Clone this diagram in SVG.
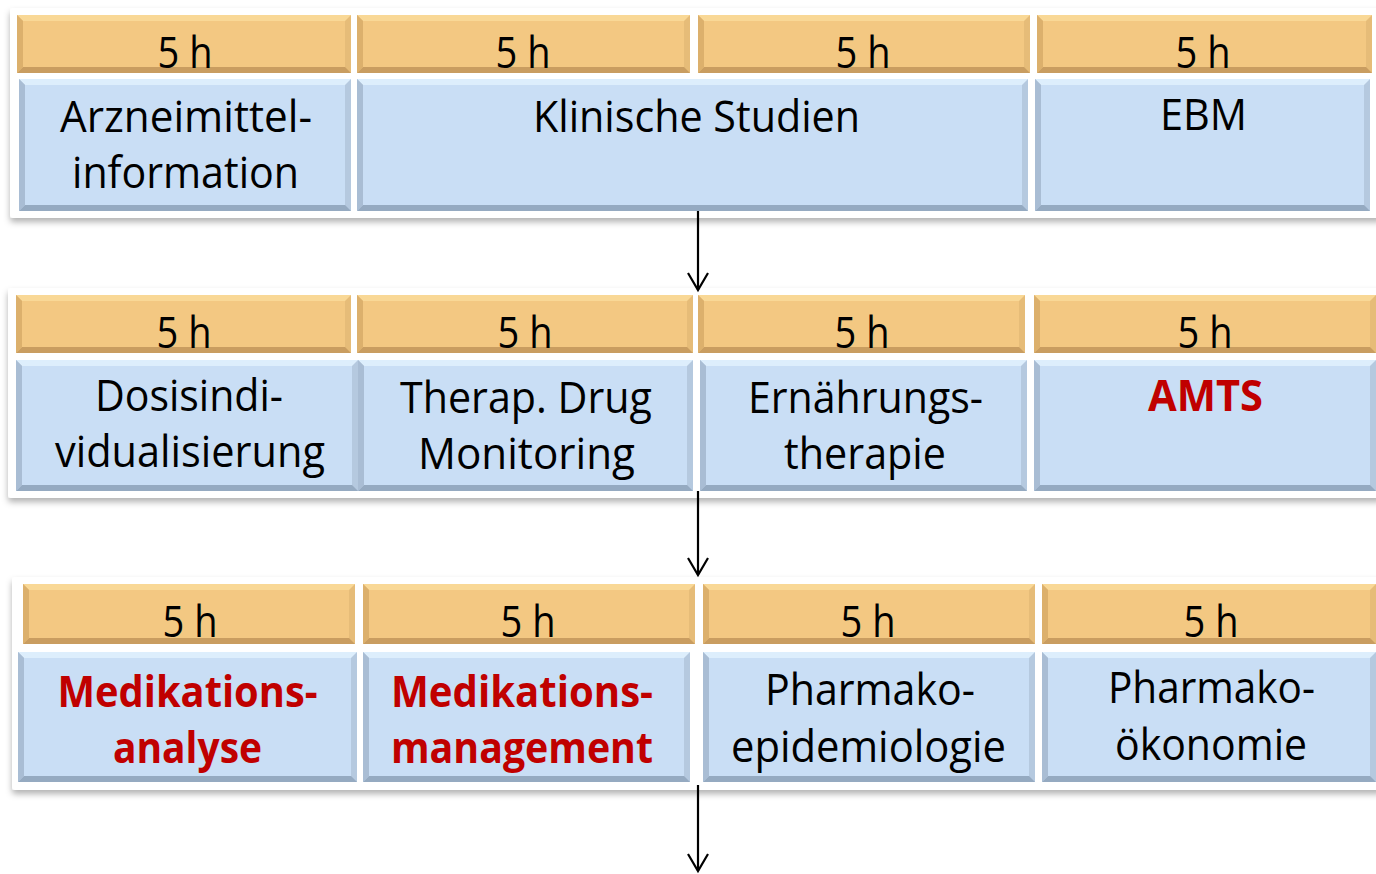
<svg xmlns="http://www.w3.org/2000/svg" width="1376" height="874" viewBox="0 0 1376 874">
<defs>
<style>
.t{font-family:"Open Sans","Noto Sans","DejaVu Sans",sans-serif;font-size:43px;fill:#000;text-anchor:middle}
.r{font-weight:bold;fill:#c00000}
.panel{fill:#fff;filter:url(#sh)}
.or{fill:#e6bc78}.ot{fill:#f9d896}.ob{fill:#c99d60}.ol{fill:#dcb06c}.of{fill:#f3c882}
.br{fill:#b5c9df}.bt{fill:#ddeefc}.bb{fill:#95aac1}.bl{fill:#a9bdd4}.bf{fill:#c9def5}
.conn{stroke:#000;stroke-width:2.2;fill:none;marker-end:url(#arr)}
</style>
<filter id="sh" x="-5%" y="-10%" width="110%" height="125%">
<feDropShadow dx="0" dy="4" stdDeviation="3" flood-color="#000" flood-opacity="0.3"/>
</filter>
<marker id="arr" markerUnits="userSpaceOnUse" markerWidth="24" markerHeight="24" viewBox="-20 -12 24 24" refX="0" refY="0" orient="auto" overflow="visible">
<path d="M-17,-10 L0,0 L-17,10" fill="none" stroke="#000" stroke-width="2.2"/>
</marker>
</defs>
<rect width="1376" height="874" fill="#fff"/>

<g id="panels">
<rect class="panel" x="10" y="8" width="1372" height="210" rx="3"/>
<rect class="panel" x="8" y="288" width="1374" height="210" rx="3"/>
<rect class="panel" x="12" y="577" width="1370" height="213" rx="3"/>
</g>

<g id="row1">
<g id="h1a"><rect class="or" x="17" y="15" width="334" height="58"/><polygon class="ot" points="17,15 351,15 345,21 23,21"/><polygon class="ob" points="17,73 351,73 345,67 23,67"/><polygon class="ol" points="17,15 23,21 23,67 17,73"/><rect class="of" x="23" y="21" width="322" height="46"/><text class="t" x="185" y="68" textLength="55" lengthAdjust="spacingAndGlyphs">5 h</text></g>
<g id="h1b"><rect class="or" x="357" y="15" width="333" height="58"/><polygon class="ot" points="357,15 690,15 684,21 363,21"/><polygon class="ob" points="357,73 690,73 684,67 363,67"/><polygon class="ol" points="357,15 363,21 363,67 357,73"/><rect class="of" x="363" y="21" width="321" height="46"/><text class="t" x="523" y="68" textLength="55" lengthAdjust="spacingAndGlyphs">5 h</text></g>
<g id="h1c"><rect class="or" x="698" y="15" width="332" height="58"/><polygon class="ot" points="698,15 1030,15 1024,21 704,21"/><polygon class="ob" points="698,73 1030,73 1024,67 704,67"/><polygon class="ol" points="698,15 704,21 704,67 698,73"/><rect class="of" x="704" y="21" width="320" height="46"/><text class="t" x="863" y="68" textLength="55" lengthAdjust="spacingAndGlyphs">5 h</text></g>
<g id="h1d"><rect class="or" x="1037" y="15" width="335" height="58"/><polygon class="ot" points="1037,15 1372,15 1366,21 1043,21"/><polygon class="ob" points="1037,73 1372,73 1366,67 1043,67"/><polygon class="ol" points="1037,15 1043,21 1043,67 1037,73"/><rect class="of" x="1043" y="21" width="323" height="46"/><text class="t" x="1203" y="68" textLength="55" lengthAdjust="spacingAndGlyphs">5 h</text></g>
<g id="b1a"><rect class="br" x="19" y="79" width="332" height="132"/><polygon class="bt" points="19,79 351,79 345,85 25,85"/><polygon class="bb" points="19,211 351,211 345,205 25,205"/><polygon class="bl" points="19,79 25,85 25,205 19,211"/><rect class="bf" x="25" y="85" width="320" height="120"/><text class="t" x="186" y="132" textLength="252" lengthAdjust="spacingAndGlyphs">Arzneimittel-</text><text class="t" x="185.5" y="188" textLength="227" lengthAdjust="spacingAndGlyphs">information</text></g>
<g id="b1b"><rect class="br" x="357" y="79" width="671" height="132"/><polygon class="bt" points="357,79 1028,79 1022,85 363,85"/><polygon class="bb" points="357,211 1028,211 1022,205 363,205"/><polygon class="bl" points="357,79 363,85 363,205 357,211"/><rect class="bf" x="363" y="85" width="659" height="120"/><text class="t" x="696.5" y="132" textLength="327" lengthAdjust="spacingAndGlyphs">Klinische Studien</text></g>
<g id="b1d"><rect class="br" x="1035" y="79" width="335" height="132"/><polygon class="bt" points="1035,79 1370,79 1364,85 1041,85"/><polygon class="bb" points="1035,211 1370,211 1364,205 1041,205"/><polygon class="bl" points="1035,79 1041,85 1041,205 1035,211"/><rect class="bf" x="1041" y="85" width="323" height="120"/><text class="t" x="1203.5" y="130" textLength="87" lengthAdjust="spacingAndGlyphs">EBM</text></g>
</g>

<g id="row2">
<g id="h2a"><rect class="or" x="16" y="295" width="335" height="58"/><polygon class="ot" points="16,295 351,295 345,301 22,301"/><polygon class="ob" points="16,353 351,353 345,347 22,347"/><polygon class="ol" points="16,295 22,301 22,347 16,353"/><rect class="of" x="22" y="301" width="323" height="46"/><text class="t" x="184" y="348" textLength="55" lengthAdjust="spacingAndGlyphs">5 h</text></g>
<g id="h2b"><rect class="or" x="357" y="295" width="336" height="58"/><polygon class="ot" points="357,295 693,295 687,301 363,301"/><polygon class="ob" points="357,353 693,353 687,347 363,347"/><polygon class="ol" points="357,295 363,301 363,347 357,353"/><rect class="of" x="363" y="301" width="324" height="46"/><text class="t" x="525" y="348" textLength="55" lengthAdjust="spacingAndGlyphs">5 h</text></g>
<g id="h2c"><rect class="or" x="698" y="295" width="327" height="58"/><polygon class="ot" points="698,295 1025,295 1019,301 704,301"/><polygon class="ob" points="698,353 1025,353 1019,347 704,347"/><polygon class="ol" points="698,295 704,301 704,347 698,353"/><rect class="of" x="704" y="301" width="315" height="46"/><text class="t" x="862" y="348" textLength="55" lengthAdjust="spacingAndGlyphs">5 h</text></g>
<g id="h2d"><rect class="or" x="1034" y="295" width="342" height="58"/><polygon class="ot" points="1034,295 1376,295 1370,301 1040,301"/><polygon class="ob" points="1034,353 1376,353 1370,347 1040,347"/><polygon class="ol" points="1034,295 1040,301 1040,347 1034,353"/><rect class="of" x="1040" y="301" width="330" height="46"/><text class="t" x="1205" y="348" textLength="55" lengthAdjust="spacingAndGlyphs">5 h</text></g>
<g id="b2a"><rect class="br" x="16" y="360" width="342" height="131"/><polygon class="bt" points="16,360 358,360 352,366 22,366"/><polygon class="bb" points="16,491 358,491 352,485 22,485"/><polygon class="bl" points="16,360 22,366 22,485 16,491"/><rect class="bf" x="22" y="366" width="330" height="119"/><text class="t" x="189" y="411" textLength="188" lengthAdjust="spacingAndGlyphs">Dosisindi-</text><text class="t" x="190" y="467" textLength="270" lengthAdjust="spacingAndGlyphs">vidualisierung</text></g>
<g id="b2b"><rect class="br" x="358" y="360" width="335" height="131"/><polygon class="bt" points="358,360 693,360 687,366 364,366"/><polygon class="bb" points="358,491 693,491 687,485 364,485"/><polygon class="bl" points="358,360 364,366 364,485 358,491"/><rect class="bf" x="364" y="366" width="323" height="119"/><text class="t" x="526" y="413" textLength="252" lengthAdjust="spacingAndGlyphs">Therap. Drug</text><text class="t" x="526.5" y="469" textLength="217" lengthAdjust="spacingAndGlyphs">Monitoring</text></g>
<g id="b2c"><rect class="br" x="700" y="360" width="327" height="131"/><polygon class="bt" points="700,360 1027,360 1021,366 706,366"/><polygon class="bb" points="700,491 1027,491 1021,485 706,485"/><polygon class="bl" points="700,360 706,366 706,485 700,491"/><rect class="bf" x="706" y="366" width="315" height="119"/><text class="t" x="865.5" y="413" textLength="235" lengthAdjust="spacingAndGlyphs">Ernährungs-</text><text class="t" x="865" y="469" textLength="162" lengthAdjust="spacingAndGlyphs">therapie</text></g>
<g id="b2d"><rect class="br" x="1034" y="360" width="342" height="131"/><polygon class="bt" points="1034,360 1376,360 1370,366 1040,366"/><polygon class="bb" points="1034,491 1376,491 1370,485 1040,485"/><polygon class="bl" points="1034,360 1040,366 1040,485 1034,491"/><rect class="bf" x="1040" y="366" width="330" height="119"/><text class="t r" x="1205.5" y="411" textLength="115" lengthAdjust="spacingAndGlyphs">AMTS</text></g>
</g>

<g id="row3">
<g id="h3a"><rect class="or" x="23" y="584" width="332" height="60"/><polygon class="ot" points="23,584 355,584 349,590 29,590"/><polygon class="ob" points="23,644 355,644 349,638 29,638"/><polygon class="ol" points="23,584 29,590 29,638 23,644"/><rect class="of" x="29" y="590" width="320" height="48"/><text class="t" x="190" y="637" textLength="55" lengthAdjust="spacingAndGlyphs">5 h</text></g>
<g id="h3b"><rect class="or" x="363" y="584" width="332" height="60"/><polygon class="ot" points="363,584 695,584 689,590 369,590"/><polygon class="ob" points="363,644 695,644 689,638 369,638"/><polygon class="ol" points="363,584 369,590 369,638 363,644"/><rect class="of" x="369" y="590" width="320" height="48"/><text class="t" x="528" y="637" textLength="55" lengthAdjust="spacingAndGlyphs">5 h</text></g>
<g id="h3c"><rect class="or" x="703" y="584" width="332" height="60"/><polygon class="ot" points="703,584 1035,584 1029,590 709,590"/><polygon class="ob" points="703,644 1035,644 1029,638 709,638"/><polygon class="ol" points="703,584 709,590 709,638 703,644"/><rect class="of" x="709" y="590" width="320" height="48"/><text class="t" x="868" y="637" textLength="55" lengthAdjust="spacingAndGlyphs">5 h</text></g>
<g id="h3d"><rect class="or" x="1042" y="584" width="334" height="60"/><polygon class="ot" points="1042,584 1376,584 1370,590 1048,590"/><polygon class="ob" points="1042,644 1376,644 1370,638 1048,638"/><polygon class="ol" points="1042,584 1048,590 1048,638 1042,644"/><rect class="of" x="1048" y="590" width="322" height="48"/><text class="t" x="1211" y="637" textLength="55" lengthAdjust="spacingAndGlyphs">5 h</text></g>
<g id="b3a"><rect class="br" x="18" y="652" width="339" height="130"/><polygon class="bt" points="18,652 357,652 351,658 24,658"/><polygon class="bb" points="18,782 357,782 351,776 24,776"/><polygon class="bl" points="18,652 24,658 24,776 18,782"/><rect class="bf" x="24" y="658" width="327" height="118"/><text class="t r" x="187.5" y="707" textLength="260" lengthAdjust="spacingAndGlyphs">Medikations-</text><text class="t r" x="187.5" y="763" textLength="149" lengthAdjust="spacingAndGlyphs">analyse</text></g>
<g id="b3b"><rect class="br" x="363" y="652" width="327" height="130"/><polygon class="bt" points="363,652 690,652 684,658 369,658"/><polygon class="bb" points="363,782 690,782 684,776 369,776"/><polygon class="bl" points="363,652 369,658 369,776 363,782"/><rect class="bf" x="369" y="658" width="315" height="118"/><text class="t r" x="522" y="707" textLength="262" lengthAdjust="spacingAndGlyphs">Medikations-</text><text class="t r" x="522" y="763" textLength="262" lengthAdjust="spacingAndGlyphs">management</text></g>
<g id="b3c"><rect class="br" x="703" y="652" width="332" height="130"/><polygon class="bt" points="703,652 1035,652 1029,658 709,658"/><polygon class="bb" points="703,782 1035,782 1029,776 709,776"/><polygon class="bl" points="703,652 709,658 709,776 703,782"/><rect class="bf" x="709" y="658" width="320" height="118"/><text class="t" x="870" y="705" textLength="210" lengthAdjust="spacingAndGlyphs">Pharmako-</text><text class="t" x="868.5" y="762" textLength="275" lengthAdjust="spacingAndGlyphs">epidemiologie</text></g>
<g id="b3d"><rect class="br" x="1042" y="652" width="334" height="130"/><polygon class="bt" points="1042,652 1376,652 1370,658 1048,658"/><polygon class="bb" points="1042,782 1376,782 1370,776 1048,776"/><polygon class="bl" points="1042,652 1048,658 1048,776 1042,782"/><rect class="bf" x="1048" y="658" width="322" height="118"/><text class="t" x="1211.5" y="703" textLength="207" lengthAdjust="spacingAndGlyphs">Pharmako-</text><text class="t" x="1211" y="760" textLength="192" lengthAdjust="spacingAndGlyphs">ökonomie</text></g>
</g>

<g id="connectors">
<line class="conn" x1="698" y1="211" x2="698" y2="290"/>
<line class="conn" x1="698" y1="491" x2="698" y2="575"/>
<line class="conn" x1="698" y1="785" x2="698" y2="871"/>
</g>
</svg>
